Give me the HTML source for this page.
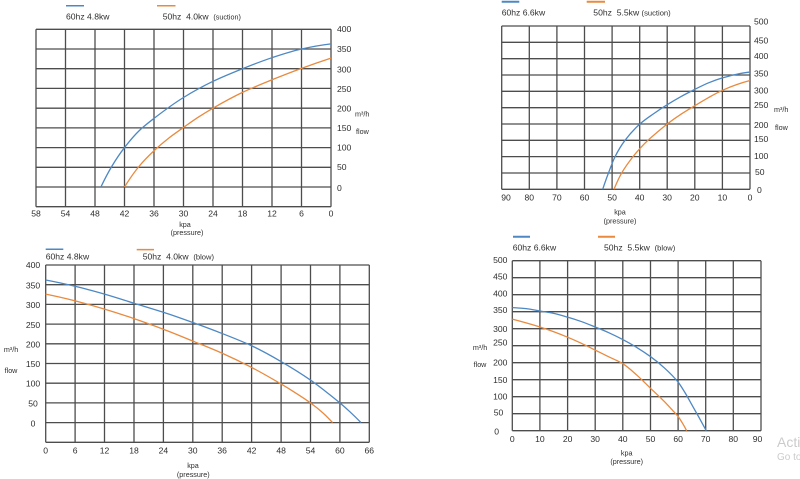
<!DOCTYPE html>
<html><head><meta charset="utf-8"><style>
html,body{margin:0;padding:0;background:#fff;}
svg{display:block;font-family:"Liberation Sans",sans-serif;}
.g line{stroke:#4d4d4d;stroke-width:1.3;}
.t{font-size:8.6px;fill:#2e2e2e;}
.s{font-size:7.2px;fill:#2e2e2e;}
.c{fill:none;stroke-width:1.3;vector-effect:non-scaling-stroke;stroke-linejoin:round;}
.b{stroke:#4d88c4;}
.o{stroke:#e98a3e;}
</style></head><body>
<svg id="sv" width="800" height="479" viewBox="0 0 800 479" xmlns="http://www.w3.org/2000/svg">
<rect width="800" height="479" fill="#fff"/>

<!-- ===== TOP LEFT ===== -->
<line x1="66" y1="5.7" x2="84" y2="5.7" stroke="#4d88c4" stroke-width="1.5"/>
<line x1="157" y1="5.7" x2="175.5" y2="5.7" stroke="#e98a3e" stroke-width="1.5"/>
<text class="t" x="66" y="19.5">60hz 4.8kw</text>
<text class="t" x="162.7" y="19.5">50hz&#160; 4.0kw&#160; <tspan font-size="7.2px">(suction)</tspan></text>
<g class="g">
<line x1="36" y1="29.3" x2="36" y2="206.7"/><line x1="65.5" y1="29.3" x2="65.5" y2="206.7"/><line x1="95" y1="29.3" x2="95" y2="206.7"/><line x1="124.5" y1="29.3" x2="124.5" y2="206.7"/><line x1="154" y1="29.3" x2="154" y2="206.7"/><line x1="183.5" y1="29.3" x2="183.5" y2="206.7"/><line x1="213" y1="29.3" x2="213" y2="206.7"/><line x1="242.5" y1="29.3" x2="242.5" y2="206.7"/><line x1="272" y1="29.3" x2="272" y2="206.7"/><line x1="301.5" y1="29.3" x2="301.5" y2="206.7"/><line x1="331" y1="29.3" x2="331" y2="206.7"/>
<line x1="36" y1="29.3" x2="331" y2="29.3"/><line x1="36" y1="49" x2="331" y2="49"/><line x1="36" y1="68.7" x2="331" y2="68.7"/><line x1="36" y1="88.4" x2="331" y2="88.4"/><line x1="36" y1="108.2" x2="331" y2="108.2"/><line x1="36" y1="127.9" x2="331" y2="127.9"/><line x1="36" y1="147.6" x2="331" y2="147.6"/><line x1="36" y1="167.3" x2="331" y2="167.3"/><line x1="36" y1="187" x2="331" y2="187"/><line x1="36" y1="206.7" x2="331" y2="206.7"/>
</g>
<g class="t">
<text x="337" y="32">400</text><text x="337" y="52">350</text><text x="337" y="72.5">300</text><text x="337" y="92">250</text><text x="337" y="111.5">200</text><text x="337" y="131">150</text><text x="337" y="150.5">100</text><text x="337" y="170">50</text><text x="337" y="191">0</text>
</g>
<text class="s" x="355" y="116.5">m³/h</text>
<text class="s" x="356" y="134">flow</text>
<g class="t" text-anchor="middle">
<text x="36" y="216.3">58</text><text x="65.5" y="216.3">54</text><text x="95" y="216.3">48</text><text x="124.5" y="216.3">42</text><text x="154" y="216.3">36</text><text x="183.5" y="216.3">30</text><text x="213" y="216.3">24</text><text x="242.5" y="216.3">18</text><text x="272" y="216.3">12</text><text x="301.5" y="216.3">6</text><text x="331" y="216.3">0</text>
</g>
<text class="s" x="185" y="227" text-anchor="middle">kpa</text>
<text class="s" x="187" y="235" text-anchor="middle">(pressure)</text>
<g transform="matrix(-4.9167,0,0,-0.39425,331,187)">
<polyline class="c b" points="0,363 6,350 12,328 18,300 24,268 30,227 36,174 39,143 42,100 44.6,52 46.8,0"/>
<polyline class="c o" points="0,327 6,301 12,272 18,240 24,200 27,177 30,151 33,124 36,92 39,53 42,0"/>
</g>

<!-- ===== TOP RIGHT ===== -->
<line x1="501.7" y1="1.7" x2="519.3" y2="1.7" stroke="#4d88c4" stroke-width="2"/>
<line x1="586.7" y1="1.7" x2="605" y2="1.7" stroke="#e98a3e" stroke-width="2"/>
<text class="t" x="501.7" y="15.5">60hz 6.6kw</text>
<text class="t" x="593.3" y="15.5">50hz&#160; 5.5kw <tspan font-size="7.6px">(suction)</tspan></text>
<g class="g">
<line x1="501.7" y1="26" x2="501.7" y2="189.3"/><line x1="529.3" y1="26" x2="529.3" y2="189.3"/><line x1="556.9" y1="26" x2="556.9" y2="189.3"/><line x1="584.5" y1="26" x2="584.5" y2="189.3"/><line x1="612.1" y1="26" x2="612.1" y2="189.3"/><line x1="639.7" y1="26" x2="639.7" y2="189.3"/><line x1="667.2" y1="26" x2="667.2" y2="189.3"/><line x1="694.8" y1="26" x2="694.8" y2="189.3"/><line x1="722.4" y1="26" x2="722.4" y2="189.3"/><line x1="750" y1="26" x2="750" y2="189.3"/>
<line x1="501.7" y1="26" x2="750" y2="26"/><line x1="501.7" y1="42.3" x2="750" y2="42.3"/><line x1="501.7" y1="58.7" x2="750" y2="58.7"/><line x1="501.7" y1="75" x2="750" y2="75"/><line x1="501.7" y1="91.3" x2="750" y2="91.3"/><line x1="501.7" y1="107.7" x2="750" y2="107.7"/><line x1="501.7" y1="124" x2="750" y2="124"/><line x1="501.7" y1="140.3" x2="750" y2="140.3"/><line x1="501.7" y1="156.6" x2="750" y2="156.6"/><line x1="501.7" y1="173" x2="750" y2="173"/><line x1="501.7" y1="189.3" x2="750" y2="189.3"/>
</g>
<g class="t" font-size="8.2px">
<text x="754" y="24.7">500</text><text x="754" y="43.7">450</text><text x="754" y="59">400</text><text x="754" y="76.3">350</text><text x="754" y="93.7">300</text><text x="754" y="108">250</text><text x="754" y="128">200</text><text x="754" y="142">150</text><text x="754" y="159">100</text><text x="755" y="175">50</text><text x="757" y="193">0</text>
</g>
<text class="s" x="774" y="112">m³/h</text>
<text class="s" x="775" y="130">flow</text>
<g class="t" text-anchor="middle">
<text x="506" y="200.3">90</text><text x="529.3" y="200.3">80</text><text x="556.9" y="200.3">70</text><text x="584.5" y="200.3">60</text><text x="612.1" y="200.3">50</text><text x="639.7" y="200.3">40</text><text x="667.2" y="200.3">30</text><text x="694.8" y="200.3">20</text><text x="722.4" y="200.3">10</text><text x="750" y="200.3">0</text>
</g>
<text class="s" x="620" y="214.5" text-anchor="middle">kpa</text>
<text class="s" x="620" y="223.3" text-anchor="middle">(pressure)</text>
<g transform="matrix(-2.759,0,0,-0.3266,750,189.3)">
<polyline class="c b" points="0,359 5,352 10,341 15,326 20,306 25,284 30,259 35,231 39.9,200 45.3,150 48.9,100 51.3,50 53.4,0"/>
<polyline class="c o" points="0,333 5,320 10,303 15,281 20,256 25,230 30,200 34,172 37,150 40,124 42.4,100 46.5,50 49.3,0"/>
</g>

<!-- ===== BOTTOM LEFT ===== -->
<line x1="45.7" y1="249.3" x2="63.3" y2="249.3" stroke="#4d88c4" stroke-width="1.5"/>
<line x1="136.7" y1="249.6" x2="154" y2="249.6" stroke="#e98a3e" stroke-width="1.5"/>
<text class="t" x="45.7" y="259.5">60hz 4.8kw</text>
<text class="t" x="142.7" y="259.5">50hz&#160; 4.0kw&#160; <tspan font-size="7.6px">(blow)</tspan></text>
<g class="g">
<line x1="45.7" y1="265" x2="45.7" y2="442.3"/><line x1="75.1" y1="265" x2="75.1" y2="442.3"/><line x1="104.5" y1="265" x2="104.5" y2="442.3"/><line x1="134" y1="265" x2="134" y2="442.3"/><line x1="163.4" y1="265" x2="163.4" y2="442.3"/><line x1="192.8" y1="265" x2="192.8" y2="442.3"/><line x1="222.2" y1="265" x2="222.2" y2="442.3"/><line x1="251.6" y1="265" x2="251.6" y2="442.3"/><line x1="281.1" y1="265" x2="281.1" y2="442.3"/><line x1="310.5" y1="265" x2="310.5" y2="442.3"/><line x1="339.9" y1="265" x2="339.9" y2="442.3"/><line x1="369.3" y1="265" x2="369.3" y2="442.3"/>
<line x1="45.7" y1="265" x2="369.3" y2="265"/><line x1="45.7" y1="284.7" x2="369.3" y2="284.7"/><line x1="45.7" y1="304.4" x2="369.3" y2="304.4"/><line x1="45.7" y1="324.1" x2="369.3" y2="324.1"/><line x1="45.7" y1="343.8" x2="369.3" y2="343.8"/><line x1="45.7" y1="363.5" x2="369.3" y2="363.5"/><line x1="45.7" y1="383.2" x2="369.3" y2="383.2"/><line x1="45.7" y1="402.9" x2="369.3" y2="402.9"/><line x1="45.7" y1="422.6" x2="369.3" y2="422.6"/><line x1="45.7" y1="442.3" x2="369.3" y2="442.3"/>
</g>
<g class="t" text-anchor="middle">
<text x="33" y="268">400</text><text x="33" y="288.7">350</text><text x="33" y="308">300</text><text x="33" y="328">250</text><text x="33" y="347.3">200</text><text x="33" y="367">150</text><text x="33" y="386.3">100</text><text x="33" y="406.3">50</text><text x="33" y="426.3">0</text>
</g>
<text class="s" x="11" y="352" text-anchor="middle">m³/h</text>
<text class="s" x="11" y="373" text-anchor="middle">flow</text>
<g class="t" text-anchor="middle">
<text x="45.7" y="453.7">0</text><text x="75.1" y="453.7">6</text><text x="104.5" y="453.7">12</text><text x="134" y="453.7">18</text><text x="163.4" y="453.7">24</text><text x="192.8" y="453.7">30</text><text x="222.2" y="453.7">36</text><text x="251.6" y="453.7">42</text><text x="281.1" y="453.7">48</text><text x="310.5" y="453.7">54</text><text x="339.9" y="453.7">60</text><text x="369.3" y="453.7">66</text>
</g>
<text class="s" x="193" y="468" text-anchor="middle">kpa</text>
<text class="s" x="193.3" y="477" text-anchor="middle">(pressure)</text>
<g transform="matrix(4.903,0,0,-0.394,45.7,422.6)">
<polyline class="c b" points="0,362 6,346 12,326 18,303 24,280 30,254 36,226 42,195 48,155 54,108 57,80 60,50 62,28 64.3,0"/>
<polyline class="c o" points="0,326 6,309 12,288 18,264 24,237 30,207 36,176 42,140 48,98 51,75 54,50 56.5,25 58.5,0"/>
</g>

<!-- ===== BOTTOM RIGHT ===== -->
<line x1="513" y1="236.7" x2="530" y2="236.7" stroke="#4d88c4" stroke-width="2"/>
<line x1="598" y1="236.7" x2="615" y2="236.7" stroke="#e98a3e" stroke-width="2"/>
<text class="t" x="512.7" y="250.3">60hz 6.6kw</text>
<text class="t" x="604" y="250.3">50hz&#160; 5.5kw&#160; <tspan font-size="7.6px">(blow)</tspan></text>
<g class="g">
<line x1="512.3" y1="260.7" x2="512.3" y2="430.7"/><line x1="539.9" y1="260.7" x2="539.9" y2="430.7"/><line x1="567.6" y1="260.7" x2="567.6" y2="430.7"/><line x1="595.2" y1="260.7" x2="595.2" y2="430.7"/><line x1="622.8" y1="260.7" x2="622.8" y2="430.7"/><line x1="650.5" y1="260.7" x2="650.5" y2="430.7"/><line x1="678.1" y1="260.7" x2="678.1" y2="430.7"/><line x1="705.7" y1="260.7" x2="705.7" y2="430.7"/><line x1="733.3" y1="260.7" x2="733.3" y2="430.7"/><line x1="761" y1="260.7" x2="761" y2="430.7"/>
<line x1="512.3" y1="260.7" x2="761" y2="260.7"/><line x1="512.3" y1="277.7" x2="761" y2="277.7"/><line x1="512.3" y1="294.7" x2="761" y2="294.7"/><line x1="512.3" y1="311.7" x2="761" y2="311.7"/><line x1="512.3" y1="328.7" x2="761" y2="328.7"/><line x1="512.3" y1="345.7" x2="761" y2="345.7"/><line x1="512.3" y1="362.7" x2="761" y2="362.7"/><line x1="512.3" y1="379.7" x2="761" y2="379.7"/><line x1="512.3" y1="396.7" x2="761" y2="396.7"/><line x1="512.3" y1="413.7" x2="761" y2="413.7"/><line x1="512.3" y1="430.7" x2="761" y2="430.7"/>
</g>
<g class="t" text-anchor="middle" font-size="8.2px">
<text x="500.3" y="263">500</text><text x="500.3" y="279.7">450</text><text x="500.3" y="296.3">400</text><text x="500.3" y="313">350</text><text x="500.3" y="332">300</text><text x="500.3" y="345.7">250</text><text x="500.3" y="365.7">200</text><text x="500.3" y="383">150</text><text x="500.3" y="399.7">100</text><text x="498.5" y="415.7">50</text><text x="496.7" y="434.7">0</text>
</g>
<text class="s" x="480" y="350" text-anchor="middle">m³/h</text>
<text class="s" x="480" y="367" text-anchor="middle">flow</text>
<g class="t" text-anchor="middle">
<text x="512.3" y="442">0</text><text x="539.9" y="442">10</text><text x="567.6" y="442">20</text><text x="595.2" y="442">30</text><text x="622.8" y="442">40</text><text x="650.5" y="442">50</text><text x="678.1" y="442">60</text><text x="705.7" y="442">70</text><text x="733.3" y="442">80</text><text x="757.5" y="442">90</text>
</g>
<text class="s" x="626.7" y="455.3" text-anchor="middle">kpa</text>
<text class="s" x="626.7" y="464" text-anchor="middle">(pressure)</text>
<g transform="matrix(2.763,0,0,-0.34,512.3,430.7)">
<polyline class="c b" points="0,362 5,359 10,352 15,345 20,334 25,321 30,305 35,288 40,268 45,245 50,218 55,185 60,143 62.5,112 65,76 67.5,40 70.2,0"/>
<polyline class="c o" points="0,328 5,317 10,305 15,291 20,275 25,257 30,237 35,217 40,197 45,164 50,125 55,86 58,60 60,42 61.6,22 63.1,0"/>
</g>

<!-- watermark -->
<text x="777" y="447" font-size="14px" fill="#cbcbcb">Acti</text>
<text x="777" y="460" font-size="10px" fill="#cbcbcb">Go to</text>
</svg>
<script>
(function(){
  var ns="http://www.w3.org/2000/svg";
  function sgn(v){return v>0?1:(v<0?-1:0);}
  function endT(h0,h1,m0,m1){
    var t=((2*h0+h1)*m0-h0*m1)/(h0+h1);
    if(sgn(t)!==sgn(m0)) t=0;
    else if(sgn(m0)!==sgn(m1) && Math.abs(t)>Math.abs(3*m0)) t=3*m0;
    return t;
  }
  var pls=document.querySelectorAll("polyline.c");
  for(var i=0;i<pls.length;i++){
    var pl=pls[i];
    var p=pl.getAttribute("points").trim().split(/\s+/).map(function(s){var a=s.split(",");return [parseFloat(a[0]),parseFloat(a[1])];});
    p.sort(function(a,b){return a[0]-b[0];});
    var n=p.length,h=[],m=[],t=[];
    for(var k=0;k<n-1;k++){h[k]=p[k+1][0]-p[k][0];m[k]=(p[k+1][1]-p[k][1])/h[k];}
    for(var k=1;k<n-1;k++){
      if(m[k-1]*m[k]<=0){t[k]=0;}
      else{var w1=2*h[k]+h[k-1],w2=h[k]+2*h[k-1];t[k]=(w1+w2)/(w1/m[k-1]+w2/m[k]);}
    }
    t[0]=n>2?endT(h[0],h[1],m[0],m[1]):m[0];
    t[n-1]=n>2?endT(h[n-2],h[n-3],m[n-2],m[n-3]):m[n-2];
    var d="M"+p[0][0]+","+p[0][1];
    for(var k=0;k<n-1;k++){
      var x0=p[k][0],y0=p[k][1],x1=p[k+1][0],y1=p[k+1][1],dx=h[k]/3;
      d+=" C"+(x0+dx).toFixed(4)+","+(y0+t[k]*dx).toFixed(4)+" "+(x1-dx).toFixed(4)+","+(y1-t[k+1]*dx).toFixed(4)+" "+x1+","+y1;
    }
    var path=document.createElementNS(ns,"path");
    path.setAttribute("d",d);
    path.setAttribute("class",pl.getAttribute("class"));
    pl.parentNode.replaceChild(path,pl);
  }
})();
</script>
</body></html>
